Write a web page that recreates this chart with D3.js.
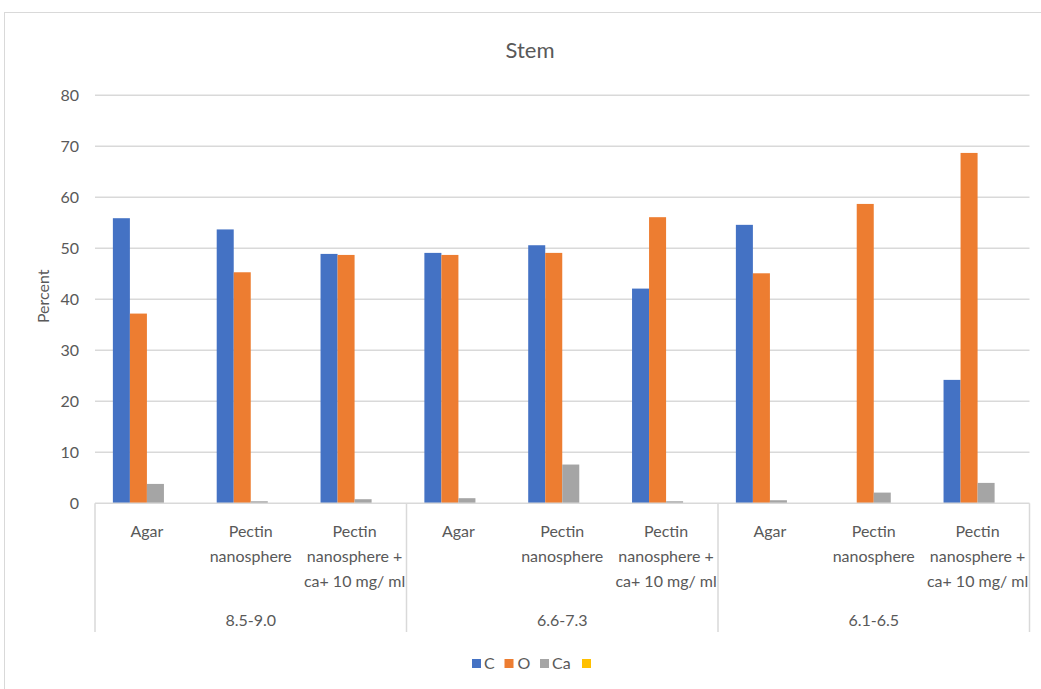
<!DOCTYPE html>
<html>
<head>
<meta charset="utf-8">
<script src="https://cdn.jsdelivr.net/npm/d3@7"></script>
<style>
  html, body { margin: 0; padding: 0; background: #fff; }
  svg { display: block; }
  text { font-family: Lato, "Open Sans", sans-serif; fill: #595959; }
</style>
</head>
<body>
<svg id="chart" width="1041" height="689"></svg>
<script>
// pH ranges (outer level) and treatments (inner level)
const groups = ["8.5-9.0", "6.6-7.3", "6.1-6.5"];
const treatments = [
  ["Agar"],
  ["Pectin", "nanosphere"],
  ["Pectin", "nanosphere +", "ca+ 10 mg/ ml"]
];
const seriesNames = ["C", "O", "Ca", ""];
const seriesColors = ["#4472C4", "#ED7D31", "#A5A5A5", "#FFC000"];

// Percent values per series, one entry per group × treatment
const cValues  = [55.9, 53.7, 48.9,  49.1, 50.6, 42.1,  54.6, 0.0, 24.2];
const oValues  = [37.2, 45.3, 48.7,  48.7, 49.1, 56.1,  45.1, 58.7, 68.7];
const caValues = [3.8, 0.4, 0.8,  1.0, 7.6, 0.4,  0.6, 2.1, 4.0];
const blankValues = [null, null, null, null, null, null, null, null, null];

const yTicks = [0, 10, 20, 30, 40, 50, 60, 70, 80];

const seriesValues = [cValues, oValues, caValues, blankValues];

// category keys "group|treatment"
const categories = [];
groups.forEach((g, gi) => treatments.forEach((t, ti) => categories.push({ key: gi + "|" + ti, group: g, gi, lines: t })));

const svg = d3.select("#chart");

// chart frame
svg.append("rect")
  .attr("x", 4.5).attr("y", 12.5)
  .attr("width", 1060).attr("height", 700)
  .attr("fill", "#fff").attr("stroke", "#d9d9d9").attr("stroke-width", 1);

const plot = { left: 95, right: 1029.5, top: 95.3, bottom: 503.3 };

const y = d3.scaleLinear().domain([0, 80]).range([plot.bottom, plot.top]);
const x0 = d3.scaleBand().domain(categories.map(c => c.key)).range([plot.left, plot.right]).padding(0);
const x1 = d3.scaleBand().domain(d3.range(seriesNames.length)).range([0, x0.bandwidth()]).paddingInner(0).paddingOuter(1.05);
const xg = d3.scaleBand().domain(groups).range([plot.left, plot.right]).padding(0);

// gridlines
svg.append("g").selectAll("line").data(yTicks.slice(1)).join("line")
  .attr("x1", plot.left).attr("x2", plot.right)
  .attr("y1", d => y(d)).attr("y2", d => y(d))
  .attr("stroke", "#d9d9d9").attr("stroke-width", 1.5);

// y axis labels
const yAxis = d3.axisLeft(y).tickValues(yTicks).tickSize(0).tickPadding(0);
const yg = svg.append("g").attr("transform", `translate(79,0)`).call(yAxis);
yg.select(".domain").remove();
yg.selectAll("text").style("font-size", "16px").attr("fill", "#595959").attr("dy", "0.35em")
  .style("font-family", "Lato, sans-serif");

// y axis title
svg.append("text")
  .attr("transform", `translate(49,${(plot.top + plot.bottom) / 2 - 3}) rotate(-90)`)
  .attr("text-anchor", "middle")
  .style("font-size", "16px")
  .text("Percent");

// bars
const barG = svg.append("g");
seriesValues.forEach((vals, si) => {
  barG.append("g").selectAll("rect")
    .data(categories.map((c, i) => ({ key: c.key, v: vals[i] })).filter(d => d.v !== null))
    .join("rect")
    .attr("x", d => x0(d.key) + x1(si))
    .attr("width", x1.bandwidth())
    .attr("y", d => y(d.v))
    .attr("height", d => y(0) - y(d.v))
    .attr("fill", seriesColors[si]);
});

// category axis line
svg.append("line")
  .attr("x1", plot.left).attr("x2", plot.right)
  .attr("y1", plot.bottom).attr("y2", plot.bottom)
  .attr("stroke", "#d9d9d9").attr("stroke-width", 1.5);

// group separators
const seps = groups.map(g => xg(g)).concat([plot.right]);
svg.append("g").selectAll("line").data(seps).join("line")
  .attr("x1", d => d).attr("x2", d => d)
  .attr("y1", plot.bottom).attr("y2", 632)
  .attr("stroke", "#d9d9d9").attr("stroke-width", 1.5);

// treatment labels
const catLabels = svg.append("g").selectAll("text").data(categories).join("text")
  .attr("text-anchor", "middle")
  .attr("x", d => x0(d.key) + x0.bandwidth() / 2)
  .attr("y", 537)
  .style("font-size", "16px");
catLabels.selectAll("tspan").data(d => d.lines.map(l => ({ l, x: x0(d.key) + x0.bandwidth() / 2 }))).join("tspan")
  .attr("x", d => d.x)
  .attr("dy", (d, i) => i === 0 ? 0 : 25)
  .text(d => d.l);

// group labels
svg.append("g").selectAll("text").data(groups).join("text")
  .attr("text-anchor", "middle")
  .attr("x", d => xg(d) + xg.bandwidth() / 2)
  .attr("y", 626)
  .style("font-size", "16px")
  .text(d => d);

// title
svg.append("text")
  .attr("x", 530).attr("y", 58)
  .attr("text-anchor", "middle")
  .style("font-size", "22px")
  .text("Stem");

// legend
const legendItems = [
  { i: 0, sx: 472, tx: 484 },
  { i: 1, sx: 504.5, tx: 517.5 },
  { i: 2, sx: 540, tx: 552 },
  { i: 3, sx: 582, tx: 594 }
];
const lg = svg.append("g");
legendItems.forEach(it => {
  lg.append("rect").attr("x", it.sx).attr("y", 659).attr("width", 9).attr("height", 9)
    .attr("fill", seriesColors[it.i]);
  lg.append("text").attr("x", it.tx).attr("y", 669).style("font-size", "16px").text(seriesNames[it.i]);
});
</script>
</body>
</html>
